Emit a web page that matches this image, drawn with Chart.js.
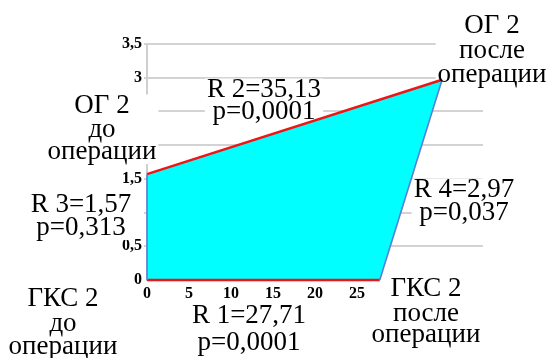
<!DOCTYPE html>
<html>
<head>
    <meta charset="UTF-8">
    <title>ГКС 2 / ОГ 2</title>
    <script src="https://cdn.jsdelivr.net/npm/chart.js"></script>
    <style>
        body {
            margin: 0;
            background: #fff;
        }

        .container {
            width: 548px;
            height: 358px;
            position: relative;
        }
    </style>
</head>
<body>
    <div class="container">
        <canvas id="quadChart"></canvas>
    </div>

    <script>
        // vertices of the quadrangle, in drawing order
        const vertexNames = ['ГКС 2', 'ГКС 2', 'ОГ 2', 'ОГ 2'];
        const vertexStates = ['до операции', 'после операции', 'после операции', 'до операции'];
        const vertexX = [0, 27.71, 35.13, 0];
        const vertexY = [0, 0, 2.97, 1.57];

        // edges: edge i goes from vertex i to vertex i+1
        const edgeNames = ['R 1', 'R 4', 'R 2', 'R 3'];
        const edgeR = [27.71, 2.97, 35.13, 1.57];
        const edgeP = [0.0001, 0.037, 0.0001, 0.313];

        // tick labels that are visible
        const xTickLabels = [0, 5, 10, 15, 20, 25];
        const yTickLabels = [0, 0.5, 1.5, 3, 3.5];

        // where the text blocks sit (centre x, baselines)
        const vertexLabelPos = [
            { cx: 63, lines: [306, 331, 354] },
            { cx: 426, lines: [296, 321, 342] },
            { cx: 492, lines: [33, 58, 82] },
            { cx: 102, lines: [113, 137, 159] }
        ];
        const edgeLabelPos = [
            { cx: 249, lines: [323, 350] },
            { cx: 464, lines: [197, 220] },
            { cx: 264, lines: [97, 119] },
            { cx: 81, lines: [212, 235] }
        ];

        const edgeColors = ['#f01414', '#5b7fd6', '#f01414', '#5b7fd6'];
        const edgeWidths = [2.5, 1.6, 2.5, 1.6];

        const comma = v => String(v).replace('.', ',');

        const points = vertexX.map((x, i) => ({ x: x, y: vertexY[i] }));
        points.push(points[0]);

        const blocks = [];
        vertexNames.forEach((n, i) => {
            blocks.push({ text: [n].concat(vertexStates[i].split(' ')), pos: vertexLabelPos[i] });
        });
        edgeNames.forEach((n, i) => {
            blocks.push({ text: [n + '=' + comma(edgeR[i]), 'p=' + comma(edgeP[i])], pos: edgeLabelPos[i] });
        });

        const serif = '"Liberation Serif"';
        const labelFont = '27px ' + serif;

        // white boxes go under the polygon, text goes on top of everything
        const textBlocks = {
            id: 'textBlocks',
            beforeDatasetsDraw(chart) {
                const ctx = chart.ctx;
                ctx.save();
                ctx.font = labelFont;
                ctx.fillStyle = '#fff';
                blocks.forEach(b => {
                    const w = Math.max(...b.text.map(t => ctx.measureText(t).width));
                    const top = b.pos.lines[0] - 18.5;
                    const bottom = b.pos.lines[b.pos.lines.length - 1] + 5;
                    ctx.fillRect(b.pos.cx - w / 2 - 2, top, w + 4, bottom - top);
                });
                ctx.restore();
            },
            afterDraw(chart) {
                const ctx = chart.ctx;
                ctx.save();
                ctx.font = labelFont;
                ctx.fillStyle = '#000';
                ctx.textAlign = 'center';
                ctx.textBaseline = 'alphabetic';
                blocks.forEach(b => {
                    b.text.forEach((t, j) => ctx.fillText(t, b.pos.cx, b.pos.lines[j]));
                });
                ctx.restore();
            }
        };

        const tickFont = { family: serif, size: 16, weight: 'bold' };

        const ctx = document.getElementById('quadChart').getContext('2d');
        const quadChart = new Chart(ctx, {
            type: 'line',
            data: {
                datasets: [{
                    // filled quadrangle, drawn under the edges
                    data: points,
                    order: 1,
                    fill: 'shape',
                    backgroundColor: '#00ffff',
                    borderWidth: 0,
                    pointRadius: 0,
                    tension: 0
                }, {
                    // coloured edges
                    data: points,
                    order: 0,
                    clip: 4,
                    fill: false,
                    borderWidth: 2,
                    pointRadius: 0,
                    tension: 0,
                    segment: {
                        borderColor: c => edgeColors[c.p0DataIndex],
                        borderWidth: c => edgeWidths[c.p0DataIndex]
                    }
                }]
            },
            options: {
                responsive: true,
                maintainAspectRatio: false,
                animation: false,
                layout: {
                    padding: { top: 44, right: 65, left: 0, bottom: 0 }
                },
                plugins: {
                    legend: { display: false },
                    tooltip: { enabled: false }
                },
                scales: {
                    x: {
                        type: 'linear',
                        min: 0,
                        max: 40,
                        grid: { display: false, drawTicks: false },
                        border: { display: false },
                        ticks: {
                            stepSize: 5,
                            padding: 4,
                            color: '#000',
                            font: tickFont,
                            maxRotation: 0,
                            callback: v => xTickLabels.includes(v) ? String(v) : ''
                        },
                        afterFit: s => { s.height = 78; }
                    },
                    y: {
                        min: 0,
                        max: 3.5,
                        grid: {
                            color: c => c.tick && c.tick.value === 0 ? 'rgba(0,0,0,0)' : '#d3d3d3',
                            lineWidth: 2,
                            tickLength: 3
                        },
                        border: { display: true, color: '#cfcfcf', width: 2 },
                        ticks: {
                            stepSize: 0.5,
                            padding: 2,
                            color: '#000',
                            font: tickFont,
                            callback: v => yTickLabels.includes(v) ? comma(v) : ''
                        },
                        afterFit: s => { s.width = 147; }
                    }
                }
            },
            plugins: [textBlocks]
        });
    </script>
</body>
</html>
